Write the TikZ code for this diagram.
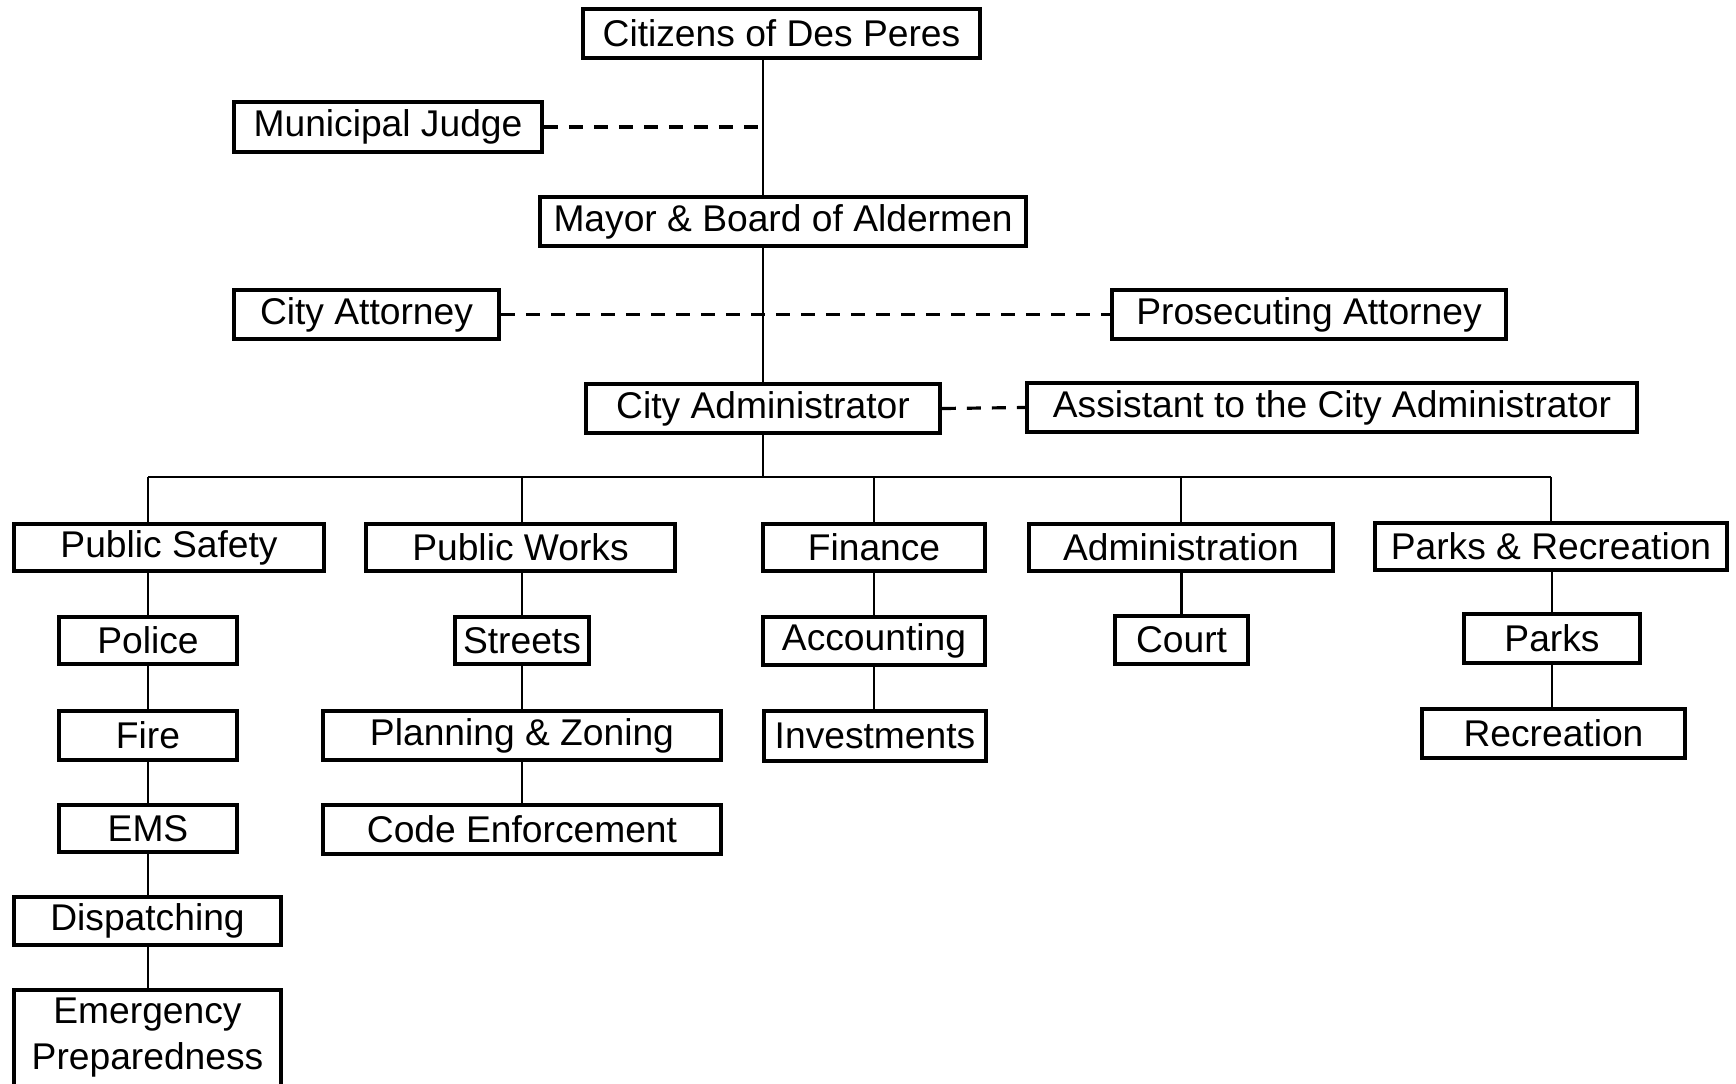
\documentclass[tikz,border=0pt]{standalone}
\usepackage{fontspec}
\setmainfont{Liberation Sans}
\begin{document}
\begin{tikzpicture}[x=0.5pt,y=-0.5pt,
  box/.style={draw, line width=1.9pt, rectangle, inner sep=0pt, anchor=center,
    font=\fontsize{18.6}{23}\selectfont, align=center},
  conn/.style={line width=1.1pt},
  dsh/.style={line width=1.6pt, dash pattern=on 7pt off 5.5pt}]
\useasboundingbox[fill=white] (0,0) rectangle (1736,1083);
% nodes (center x, center y, width, height in px)
\node[box, minimum width=397*0.5pt, minimum height=49*0.5pt] (cit) at (781.5,33.5) {Citizens of Des Peres};
\node[box, minimum width=308*0.5pt, minimum height=50*0.5pt] (judge) at (388,127) {Municipal Judge};
\node[box, minimum width=486*0.5pt, minimum height=49*0.5pt] (mayor) at (783,221.5) {Mayor \& Board of Aldermen};
\node[box, minimum width=265*0.5pt, minimum height=49*0.5pt] (catty) at (366.5,314.5) {City Attorney};
\node[box, minimum width=394*0.5pt, minimum height=49*0.5pt] (pros) at (1309,314.5) {Prosecuting Attorney};
\node[box, minimum width=354*0.5pt, minimum height=49*0.5pt] (cadm) at (763,408.5) {City Administrator};
\node[box, minimum width=610*0.5pt, minimum height=49*0.5pt] (asst) at (1332,407.5) {Assistant to the City Administrator};
% departments
\node[box, minimum width=310*0.5pt, minimum height=47*0.5pt] (ps) at (169,547.5) {Public Safety};
\node[box, minimum width=309*0.5pt, minimum height=47*0.5pt] (pw) at (520.5,547.5) {Public Works};
\node[box, minimum width=222*0.5pt, minimum height=47*0.5pt] (fin) at (874,547.5) {Finance};
\node[box, minimum width=304*0.5pt, minimum height=47*0.5pt] (adm) at (1181,547.5) {Administration};
\node[box, minimum width=352*0.5pt, minimum height=47*0.5pt] (pr) at (1551,546.5) {Parks \& Recreation};
% public safety column
\node[box, minimum width=178*0.5pt, minimum height=47*0.5pt] (police) at (148,640.5) {Police};
\node[box, minimum width=178*0.5pt, minimum height=49*0.5pt] (fire) at (148,735.5) {Fire};
\node[box, minimum width=178*0.5pt, minimum height=47*0.5pt] (ems) at (148,828.5) {EMS};
\node[box, minimum width=267*0.5pt, minimum height=48*0.5pt] (disp) at (147.5,921) {Dispatching};
\node[box, minimum width=267*0.5pt, minimum height=96*0.5pt] (emerg) at (147.5,1038) {Emergency\\Preparedness};
% public works column
\node[box, minimum width=134*0.5pt, minimum height=47*0.5pt] (streets) at (522,640.5) {Streets};
\node[box, minimum width=398*0.5pt, minimum height=49*0.5pt] (plan) at (522,735.5) {Planning \& Zoning};
\node[box, minimum width=398*0.5pt, minimum height=49*0.5pt] (code) at (522,829.5) {Code Enforcement};
% finance column
\node[box, minimum width=222*0.5pt, minimum height=48*0.5pt] (acc) at (874,641) {Accounting};
\node[box, minimum width=222*0.5pt, minimum height=50*0.5pt] (inv) at (875,736) {Investments};
% administration column
\node[box, minimum width=133*0.5pt, minimum height=48*0.5pt] (court) at (1181.5,640) {Court};
% parks column
\node[box, minimum width=176*0.5pt, minimum height=49*0.5pt] (parks) at (1552,638.5) {Parks};
\node[box, minimum width=263*0.5pt, minimum height=49*0.5pt] (rec) at (1553.5,733.5) {Recreation};
\coordinate (bus) at (763,477);
% trunk
\draw[conn] (cit.south -| cadm.north) -- (mayor.north -| cadm.north);
\draw[conn] (mayor.south -| cadm.north) -- (cadm.north);
\draw[conn] (cadm.south) -- (bus);
% dashed staff links
\draw[dsh] (judge.east) -- (judge.east -| cadm.north);
\draw[dsh] (catty.east) -- (pros.west);
\draw[dsh] (cadm.east) -- (asst.west);
% bus
\draw[conn] (bus -| police.north) -- (bus -| pr.north);
\draw[conn] (bus -| police.north) -- (ps.north -| police.north);
\draw[conn] (bus -| streets.north) -- (pw.north -| streets.north);
\draw[conn] (bus -| fin.north) -- (fin.north);
\draw[conn] (bus -| adm.north) -- (adm.north);
\draw[conn] (bus -| pr.north) -- (pr.north);
% columns
\draw[conn] (ps.south -| police.north) -- (police.north);
\draw[conn] (police.south) -- (fire.north);
\draw[conn] (fire.south) -- (ems.north);
\draw[conn] (ems.south) -- (disp.north -| ems.south);
\draw[conn] (disp.south -| ems.south) -- (emerg.north -| ems.south);
\draw[conn] (pw.south -| streets.north) -- (streets.north);
\draw[conn] (streets.south) -- (plan.north);
\draw[conn] (plan.south) -- (code.north);
\draw[conn] (fin.south) -- (acc.north);
\draw[conn] (acc.south) -- (acc.south |- inv.north);
\draw[conn] (adm.south -| court.north) -- (court.north);
\draw[conn] (pr.south -| parks.north) -- (parks.north);
\draw[conn] (parks.south) -- (parks.south |- rec.north);
\end{tikzpicture}
\end{document}
